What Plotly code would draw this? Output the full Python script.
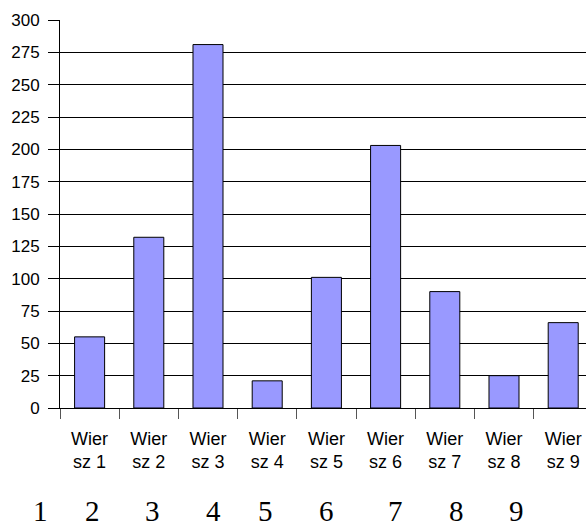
import plotly.graph_objects as go

categories = ["Wier<br>sz 1", "Wier<br>sz 2", "Wier<br>sz 3", "Wier<br>sz 4", "Wier<br>sz 5",
              "Wier<br>sz 6", "Wier<br>sz 7", "Wier<br>sz 8", "Wier<br>sz 9"]
values = [55, 132, 281, 21, 101, 203, 90, 25, 66]
y_ticks = [0, 25, 50, 75, 100, 125, 150, 175, 200, 225, 250, 275, 300]
footer_labels = ["1", "2", "3", "4", "5", "6", "7", "8", "9"]

W, H = 586, 529
L, R, T, B = 60, 0, 20, 121
pw = W - L - R
ph = H - T - B
# pixel positions of the footer numbers (layout)
footer_px = [40.7, 92.7, 152.7, 213, 265, 326, 395.7, 456, 516.7]
footer_bottom_py = 529

fig = go.Figure()
fig.add_trace(go.Bar(
    x=list(range(len(categories))), y=values, width=0.507,
    marker=dict(color="#9999FF", line=dict(color="#000000", width=1)),
    hoverinfo="skip",
))

annotations = []
for lab, px in zip(footer_labels, footer_px):
    annotations.append(dict(
        text=lab, xref="paper", yref="paper",
        x=(px - L) / pw, y=(H - B - footer_bottom_py) / ph,
        xanchor="center", yanchor="bottom", showarrow=False,
        font=dict(family="Liberation Serif, Times New Roman, serif", size=29, color="#000000"),
    ))

fig.update_layout(
    width=W, height=H,
    margin=dict(l=L, r=R, t=T, b=B, pad=0),
    paper_bgcolor="#FFFFFF", plot_bgcolor="#FFFFFF",
    showlegend=False,
    annotations=annotations,
    font=dict(family="Liberation Sans, Arial, sans-serif", color="#000000"),
)
fig.update_xaxes(
    type="linear", range=[-0.5, -0.5 + pw / 59.2],
    tickmode="array", tickvals=list(range(len(categories))), ticktext=categories,
    ticks="", showgrid=False, zeroline=False,
    showline=True, linecolor="#000000", linewidth=1,
    tickfont=dict(size=18, color="#000000"),
    ticklabelstandoff=14,
)
# boundary ticks drawn via minor ticks
fig.update_xaxes(minor=dict(tickmode="array", tickvals=[i - 0.5 for i in range(len(categories))],
                            ticks="outside", ticklen=10, tickcolor="#555555", tickwidth=1, showgrid=False))
fig.update_yaxes(
    range=[0, 300], tickmode="array", tickvals=y_ticks,
    ticks="outside", ticklen=11, tickcolor="#000000", tickwidth=1,
    showgrid=True, gridcolor="#000000", gridwidth=1, zeroline=False,
    showline=True, linecolor="#000000", linewidth=1,
    tickfont=dict(size=17, color="#000000"),
    ticklabelstandoff=5,
)

fig.write_html("out.html", config={"displayModeBar": False, "staticPlot": True},
               post_script="document.body.style.margin='0';document.body.style.overflow='hidden';")
